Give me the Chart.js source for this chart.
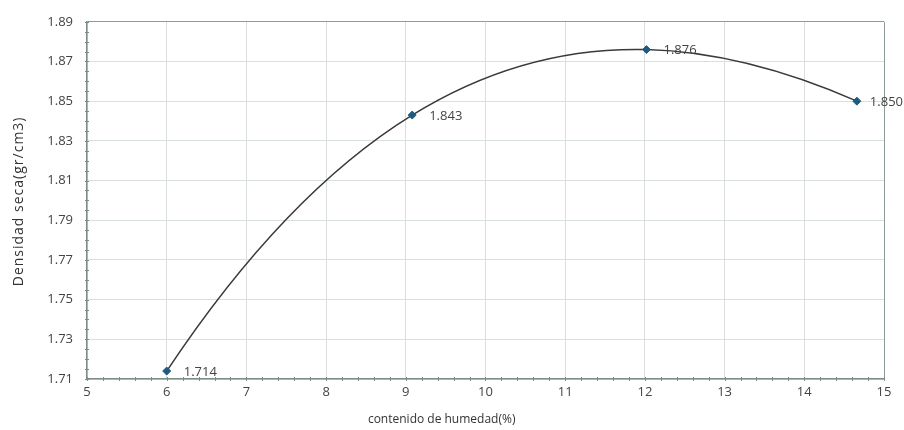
<!DOCTYPE html>
<html>
<head>
<meta charset="utf-8">
<script src="https://cdn.jsdelivr.net/npm/chart.js@4/dist/chart.umd.min.js"></script>
<style>
  html, body { margin: 0; padding: 0; background: #fff; }
  #wrap { width: 904px; height: 430px; }
</style>
</head>
<body>
<div id="wrap"><canvas id="proctorChart" width="904" height="430"></canvas></div>
<script>
// moisture content (%) vs dry density (gr/cm3)
var humedad = [6.0, 9.08, 12.02, 14.66];
var densidad = [1.714, 1.843, 1.876, 1.850];
var puntoLabels = ["1.714", "1.843", "1.876", "1.850"];

var xMin = 5, xMax = 15, xStep = 1;
var yMin = 1.71, yMax = 1.89, yStep = 0.02;

var font = "'Open Sans', 'DejaVu Sans', sans-serif";
var titleXPos = 0.445; // x title sits a bit left of centre in the original

var points = humedad.map(function (h, i) { return { x: h, y: densidad[i] }; });

// the original curve is a polynomial through all the points (like excel's smooth line),
// so set the bezier control points from the slope of that polynomial at each point
var polyCurve = {
  id: 'polyCurve',
  beforeDatasetDraw: function (chart, args) {
    var meta = args.meta;
    if (!meta.dataset) return;
    meta.dataset.updateControlPoints(chart.chartArea, meta.iScale.axis);
    var pts = meta.data;
    var n = pts.length;
    var xs = pts.map(function (p) { return p.x; });
    var ys = pts.map(function (p) { return p.y; });
    var slope = [];
    for (var i = 0; i < n; i++) {
      var d = 0;
      for (var j = 0; j < n; j++) {
        var dl;
        if (j === i) {
          dl = 0;
          for (var k = 0; k < n; k++) if (k !== i) dl += 1 / (xs[i] - xs[k]);
        } else {
          var num = 1, den = 1;
          for (var k2 = 0; k2 < n; k2++) {
            if (k2 !== j) den *= (xs[j] - xs[k2]);
            if (k2 !== i && k2 !== j) num *= (xs[i] - xs[k2]);
          }
          dl = num / den;
        }
        d += ys[j] * dl;
      }
      slope.push(d);
    }
    for (var m = 0; m < n; m++) {
      var p = pts[m];
      var hPrev = m > 0 ? (xs[m] - xs[m - 1]) / 3 : 0;
      var hNext = m < n - 1 ? (xs[m + 1] - xs[m]) / 3 : 0;
      p.cp1x = xs[m] - hPrev;
      p.cp1y = ys[m] - slope[m] * hPrev;
      p.cp2x = xs[m] + hNext;
      p.cp2y = ys[m] + slope[m] * hNext;
    }
  }
};

// little labels to the right of each point
var pointLabelsPlugin = {
  id: 'pointLabels',
  afterDatasetsDraw: function (chart) {
    var ctx = chart.ctx;
    var meta = chart.getDatasetMeta(0);
    ctx.save();
    ctx.font = "13px " + font;
    ctx.fillStyle = '#444';
    ctx.textBaseline = 'middle';
    meta.data.forEach(function (el, i) {
      var txt = puntoLabels[i];
      var w = ctx.measureText(txt).width;
      var x = el.x + 17;
      if (x + w > chart.width - 1) x = chart.width - 1 - w;
      ctx.fillText(txt, x, el.y + 1);
    });
    ctx.restore();
  }
};

// minor tick marks along both axes + axis titles
var axisExtras = {
  id: 'axisExtras',
  afterDraw: function (chart) {
    var ctx = chart.ctx;
    var xs = chart.scales.x, ys = chart.scales.y;
    var area = chart.chartArea;
    ctx.save();
    ctx.strokeStyle = '#7d8b8b';
    ctx.lineWidth = 1;
    ctx.beginPath();
    for (var v = xMin; v <= xMax + 1e-9; v += 0.2) {
      var px = Math.round(xs.getPixelForValue(v)) + 0.5;
      ctx.moveTo(px, area.bottom - 2);
      ctx.lineTo(px, area.bottom + 2);
    }
    for (var k = 0; k <= (yMax - yMin) / 0.005 + 0.5; k++) {
      var py = Math.round(ys.getPixelForValue(yMin + k * 0.005)) + 0.5;
      ctx.moveTo(area.left - 2, py);
      ctx.lineTo(area.left + 2, py);
    }
    ctx.stroke();

    ctx.fillStyle = '#333';
    ctx.textAlign = 'center';
    ctx.textBaseline = 'middle';
    ctx.font = "12px " + font;
    ctx.fillText('contenido de humedad(%)', area.left + (area.right - area.left) * titleXPos, 420);

    ctx.translate(19, (area.top + area.bottom) / 2 + 1);
    ctx.rotate(-Math.PI / 2);
    ctx.font = "14px " + font;
    ctx.letterSpacing = '1px';
    ctx.fillText('Densidad seca(gr/cm3)', 0, 0);
    ctx.restore();
  }
};

new Chart(document.getElementById('proctorChart'), {
  type: 'scatter',
  data: {
    datasets: [{
      data: points,
      showLine: true,
      tension: 0.4,
      borderColor: '#3a3a3a',
      borderWidth: 1.5,
      pointStyle: 'rectRot',
      pointRadius: 4,
      pointBackgroundColor: '#1f5a80',
      pointBorderColor: '#1f5a80',
      pointBorderWidth: 1
    }]
  },
  options: {
    responsive: false,
    animation: false,
    layout: { padding: { top: 19, right: 20, left: 0, bottom: 0 } },
    plugins: {
      legend: { display: false },
      tooltip: { enabled: false }
    },
    scales: {
      x: {
        type: 'linear',
        min: xMin,
        max: xMax,
        afterFit: function (s) { s.height = 51; },
        ticks: {
          stepSize: xStep,
          padding: 5,
          color: '#444',
          font: { family: font, size: 13 }
        },
        grid: {
          drawTicks: false,
          color: function (c) { return c.tick && c.tick.value === xMax ? '#8c9a9a' : '#d9dfdf'; }
        },
        border: { color: '#7d8b8b', width: 1.5 }
      },
      y: {
        min: yMin,
        max: yMax,
        afterFit: function (s) { s.width = 87; },
        ticks: {
          stepSize: yStep,
          padding: 14,
          color: '#444',
          font: { family: font, size: 13 },
          callback: function (v) { return Number(v).toFixed(2); }
        },
        grid: {
          drawTicks: false,
          color: function (c) { return c.tick && Math.abs(c.tick.value - yMax) < 1e-9 ? '#7fa3a3' : '#d9dfdf'; }
        },
        border: { color: '#7d8b8b', width: 1.5 }
      }
    }
  },
  plugins: [polyCurve, pointLabelsPlugin, axisExtras]
});
</script>
</body>
</html>
